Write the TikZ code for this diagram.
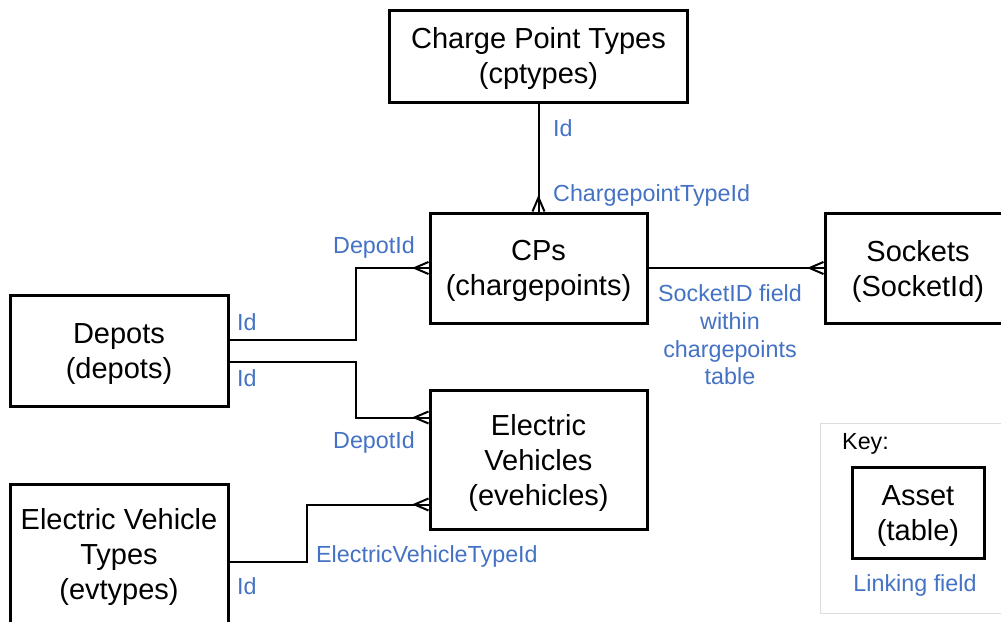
\documentclass[tikz,border=0pt]{standalone}
\usepackage{fontspec}
\setmainfont{Liberation Sans}
\usetikzlibrary{calc}
\definecolor{linkblue}{HTML}{4472C4}
\definecolor{keygray}{HTML}{DDDDDD}
\newcommand\crowleft[1]{\draw[link] ($#1+(0,-6)$) -- ($#1+(-14,0)$) -- ($#1+(0,6)$);}
\newcommand\crowup[1]{\draw[link] ($#1+(-6,0)$) -- ($#1+(0,-14)$) -- ($#1+(6,0)$);}
\newcommand\tp{\rule{0pt}{27pt}}
\begin{document}
\begin{tikzpicture}[x=1pt,y=-1pt,
  entity/.style={draw=black, line width=3pt, align=center, inner sep=0pt,
    font=\fontsize{29}{35}\selectfont},
  link/.style={draw=black, line width=2pt},
  field/.style={text=linkblue, inner sep=0pt, align=center,
    font=\fontsize{23.3}{27.7}\selectfont},
  keyframe/.style={draw=keygray, line width=1pt},
]
\useasboundingbox[fill=white] (0,0) rectangle (1001,621);
\clip (0,0) rectangle (1001,621);

% entities
\node[entity, minimum width=298pt, minimum height=92pt] (cpt) at (538.5,56) {\tp Charge Point Types\\(cptypes)};
\node[entity, minimum width=217pt, minimum height=110pt] (cps) at (538.5,268) {\tp CPs\\(chargepoints)};
\node[entity, minimum width=186pt, minimum height=110pt] (sock) at (918,268) {\tp Sockets\\(SocketId)};
\node[entity, minimum width=218pt, minimum height=111pt] (dep) at (119,350.5) {\tp Depots\\(depots)};
\node[entity, minimum width=217pt, minimum height=139pt] (ev) at (538.5,459.5) {\tp Electric\\Vehicles\\(evehicles)};
\node[entity, minimum width=218pt, minimum height=140pt] (evt) at (119,554) {\tp Electric Vehicle\\Types\\(evtypes)};

% connectors
\draw[link] (cpt.south -| cps.north) -- (cps.north);
\crowup{(cps.north)}

\draw[link] ($(dep.east)+(0,-11)$) -- ++(126,0) |- (cps.west);
\crowleft{(cps.west)}

\coordinate (evdep) at ($(ev.north west)+(0,29)$);
\draw[link] ($(dep.east)+(0,11)$) -- ++(126,0) |- (evdep);
\crowleft{(evdep)}

\coordinate (evtyp) at ($(ev.south west)+(0,-26)$);
\draw[link] ($(evt.east)+(0,8)$) -- ++(77,0) |- (evtyp);
\crowleft{(evtyp)}

\draw[link] (cps.east) -- (cps.east -| sock.west);
\crowleft{(sock.west)}

% linking field labels
\node[field, anchor=west] (l1) at (553,128) {Id};
\node[field, anchor=west] (l2) at (553,195) {ChargepointTypeId};
\node[field] (l3) at (374,247) {DepotId};
\node[field, anchor=west] (l4) at (237,322) {Id};
\node[field, anchor=west] (l5) at (237,378) {Id};
\node[field] (l6) at (374,442) {DepotId};
\node[field, anchor=west] (l7) at (316,556) {ElectricVehicleTypeId};
\node[field, anchor=west] (l8) at (237,586) {Id};
\node[field] (l9) at (730,335) {SocketID field\\within\\chargepoints\\table};

% key
\draw[keyframe] (820,423) rectangle (1012,613);
\node[field, text=black, anchor=west] (keyl) at (842,444) {Key:};
\node[entity, minimum width=132pt, minimum height=91pt] (asset) at (918,512.5) {\tp Asset\\(table)};
\node[field] (linkf) at (915,585) {Linking field};
\end{tikzpicture}
\end{document}
